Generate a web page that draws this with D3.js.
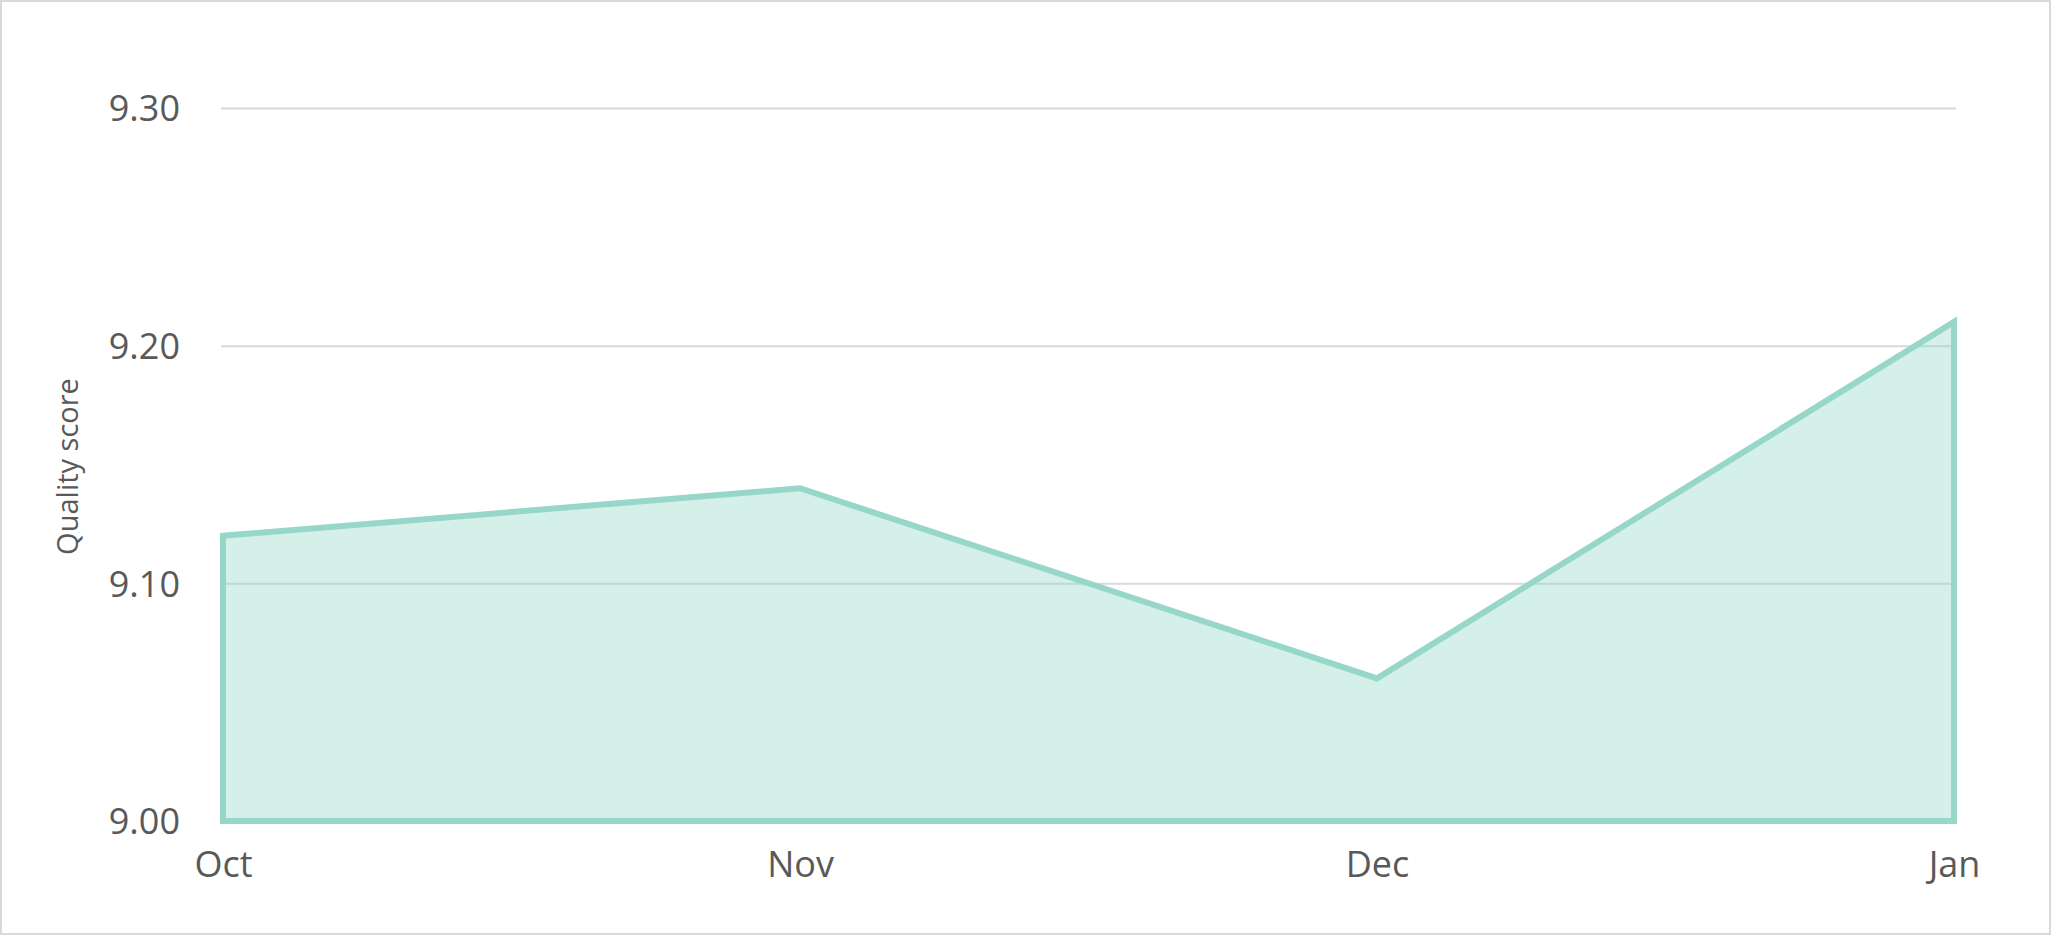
<!DOCTYPE html>
<html>
<head>
<meta charset="utf-8">
<script src="https://cdn.jsdelivr.net/npm/d3@7/dist/d3.min.js"></script>
<style>
  html, body { margin: 0; padding: 0; background: #fff; }
  #chart svg { display: block; }
  .tick text { font-family: "Open Sans", sans-serif; fill: #595959; }
</style>
</head>
<body>
<div id="chart"></div>
<script>
const months = ["Oct", "Nov", "Dec", "Jan"];
const scores = [9.12, 9.14, 9.06, 9.21];
const yTicks = [9.00, 9.10, 9.20, 9.30];

// Dimensions
const width = 2051;
const height = 935;
const marginLeft = 222;
const marginRight = 96;
const marginTop = 108;
const marginBottom = 114;

const lineColor = "#97D7C9";
const textColor = "#595959";

const svg = d3.select("#chart")
    .append("svg")
    .attr("width", width)
    .attr("height", height);

// outer frame
svg.append("rect")
    .attr("x", 1).attr("y", 1)
    .attr("width", width - 2).attr("height", height - 2)
    .attr("fill", "#fff")
    .attr("stroke", "#D9D9D9")
    .attr("stroke-width", 2);

const x = d3.scalePoint()
    .domain(months)
    .range([marginLeft + 1, width - marginRight - 1]);

const y = d3.scaleLinear()
    .domain([9.00, 9.30])
    .range([height - marginBottom, marginTop]);

// gridlines + y labels
const yAxis = d3.axisLeft(y)
    .tickValues(yTicks)
    .tickFormat(d3.format(".2f"))
    .tickSize(-(width - marginLeft - marginRight + 2))
    .tickPadding(41);

svg.append("g")
    .attr("transform", `translate(${marginLeft - 1},0)`)
    .call(yAxis)
    .call(g => g.select(".domain").remove())
    .call(g => g.selectAll(".tick line").attr("stroke", "#D9D9D9").attr("stroke-width", 2))
    .call(g => g.selectAll(".tick text").attr("font-size", 36).attr("dy", "0.36em"));

// area
const area = d3.area()
    .x((d, i) => x(months[i]))
    .y0(y(9.00))
    .y1(d => y(d));

svg.append("path")
    .datum(scores)
    .attr("d", d => area(d) + "Z")
    .attr("fill", lineColor)
    .attr("fill-opacity", 0.4)
    .attr("stroke", lineColor)
    .attr("stroke-width", 6)
    .attr("stroke-linejoin", "miter");

// x labels
const xAxis = d3.axisBottom(x).tickSize(0).tickPadding(30);
svg.append("g")
    .attr("transform", `translate(0,${height - marginBottom})`)
    .call(xAxis)
    .call(g => g.select(".domain").remove())
    .call(g => g.selectAll(".tick text").attr("font-size", 36));

// y title
svg.append("text")
    .attr("transform", `translate(68,${(marginTop + height - marginBottom) / 2 + 2}) rotate(-90)`)
    .attr("text-anchor", "middle")
    .attr("dy", "0.35em")
    .attr("font-family", "Open Sans, sans-serif")
    .attr("font-size", 29)
    .attr("fill", textColor)
    .text("Quality score");
</script>
</body>
</html>
